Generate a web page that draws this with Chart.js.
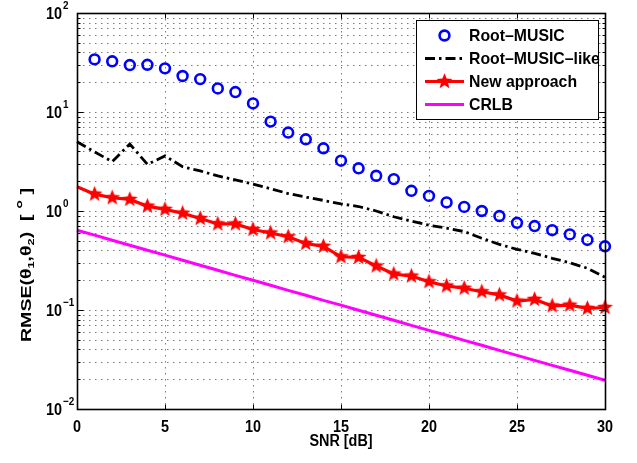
<!DOCTYPE html>
<html>
<head>
<meta charset="utf-8">
<script src="https://cdn.jsdelivr.net/npm/chart.js@4.4.1/dist/chart.umd.min.js"></script>
<style>
  html, body { margin: 0; padding: 0; background: #fff; }
  canvas { display: block; }
</style>
</head>
<body>
<canvas id="rmseChart" width="637" height="463"></canvas>
<script>
// ---- data ----
const snr = [0, 1, 2, 3, 4, 5, 6, 7, 8, 9, 10, 11, 12, 13, 14, 15, 16, 17, 18, 19, 20, 21, 22, 23, 24, 25, 26, 27, 28, 29, 30];
const rootMusic = [null, 34, 32.5, 29.8, 30, 27.6, 23.1, 21.5, 17.3, 15.9, 12.2, 8.0, 6.2, 5.3, 4.3, 3.22, 2.70, 2.27, 2.10, 1.60, 1.42, 1.22, 1.10, 1.0, 0.89, 0.76, 0.705, 0.64, 0.58, 0.51, 0.44];
const rootMusicLike = [5.0, 3.95, 3.15, 4.75, 2.96, 3.6, 2.8, 2.54, 2.26, 2.06, 1.87, 1.68, 1.5, 1.38, 1.28, 1.18, 1.11, 1.0, 0.875, 0.79, 0.72, 0.67, 0.62, 0.53, 0.46, 0.41, 0.374, 0.333, 0.30, 0.264, 0.214];
const newApproach = [1.76, 1.48, 1.36, 1.31, 1.12, 1.04, 0.95, 0.84, 0.74, 0.74, 0.65, 0.60, 0.55, 0.47, 0.44, 0.345, 0.34, 0.278, 0.231, 0.22, 0.193, 0.175, 0.166, 0.153, 0.142, 0.123, 0.128, 0.11, 0.112, 0.104, 0.106];
const crlb = [0.64, 0.57, 0.507, 0.451, 0.402, 0.358, 0.318, 0.283, 0.252, 0.224, 0.2, 0.178, 0.158, 0.141, 0.125, 0.112, 0.0993, 0.0884, 0.0787, 0.070, 0.0623, 0.0555, 0.0494, 0.044, 0.0391, 0.0348, 0.031, 0.0276, 0.0246, 0.0219, 0.0195];
const xTicks = [0, 5, 10, 15, 20, 25, 30];
const yDecades = [-2, -1, 0, 1, 2];
const seriesNames = ['Root\u2013MUSIC', 'Root\u2013MUSIC\u2013like', 'New approach', 'CRLB'];

const FONT = '"Liberation Sans", Arial, Helvetica, sans-serif';

function pts(vals) {
    return snr.map((x, i) => ({ x: x, y: vals[i] }));
}

// text squeezed sideways a bit, like the exported figure
function txt(ctx, s, x, y, size, sx, align) {
    ctx.save();
    ctx.font = 'bold ' + size + 'px ' + FONT;
    ctx.textAlign = align || 'left';
    ctx.textBaseline = 'middle';
    ctx.translate(x, y);
    ctx.scale(sx, 1);
    ctx.fillText(s, 0, 0);
    ctx.restore();
}

// filled pentagram marker (Chart.js 'star' is only an asterisk)
function makeStar(rOut, rIn, color) {
    const c = document.createElement('canvas');
    const s = Math.ceil(rOut * 2 + 2);
    c.width = s; c.height = s;
    const g = c.getContext('2d');
    g.translate(s / 2, s / 2);
    g.beginPath();
    for (let i = 0; i < 10; i++) {
        const r = i % 2 === 0 ? rOut : rIn;
        const a = -Math.PI / 2 + i * Math.PI / 5;
        if (i === 0) g.moveTo(r * Math.cos(a), r * Math.sin(a));
        else g.lineTo(r * Math.cos(a), r * Math.sin(a));
    }
    g.closePath();
    g.fillStyle = color;
    g.fill();
    return c;
}
const starImg = makeStar(8.3, 3.6, '#ff0000');

const DASHDOT = [10, 4, 2.5, 4];

// dotted grid, under the data
const gridPlugin = {
    id: 'matlabGrid',
    beforeDatasetsDraw(chart) {
        const ctx = chart.ctx, a = chart.chartArea;
        const xs = chart.scales.x, ys = chart.scales.y;
        ctx.save();
        ctx.strokeStyle = '#7a7a7a';
        ctx.lineWidth = 1;
        ctx.setLineDash([1.5, 4.5]);
        xTicks.forEach(v => {
            if (v === 0 || v === 30) return;
            const px = Math.round(xs.getPixelForValue(v)) + 0.5;
            ctx.beginPath(); ctx.moveTo(px, a.top); ctx.lineTo(px, a.bottom); ctx.stroke();
        });
        for (let d = -2; d < 2; d++) {
            for (let m = 1; m <= 9; m++) {
                if (d === -2 && m === 1) continue;
                const py = Math.round(ys.getPixelForValue(m * Math.pow(10, d))) + 0.5;
                ctx.beginPath(); ctx.moveTo(a.left, py); ctx.lineTo(a.right, py); ctx.stroke();
            }
        }
        ctx.restore();
    }
};

// box, ticks, labels and legend on top
const frameyPlugin = {
    id: 'matlabFrame',
    afterDraw(chart) {
        const ctx = chart.ctx, a = chart.chartArea;
        const xs = chart.scales.x, ys = chart.scales.y;
        const L = Math.round(a.left) + 0.5, R = Math.round(a.right) + 0.5;
        const T = Math.round(a.top) + 0.5, B = Math.round(a.bottom) + 0.5;
        ctx.save();
        ctx.strokeStyle = '#000';
        ctx.lineWidth = 1.6;
        ctx.setLineDash([]);
        ctx.strokeRect(L, T, R - L, B - T);

        ctx.lineWidth = 1;
        xTicks.forEach(v => {
            const px = Math.round(xs.getPixelForValue(v)) + 0.5;
            ctx.beginPath();
            ctx.moveTo(px, B); ctx.lineTo(px, B - 5);
            ctx.moveTo(px, T); ctx.lineTo(px, T + 5);
            ctx.stroke();
        });
        for (let d = -2; d <= 2; d++) {
            for (let m = 1; m <= 9; m++) {
                if (d === 2 && m > 1) break;
                const py = Math.round(ys.getPixelForValue(m * Math.pow(10, d))) + 0.5;
                const len = m === 1 ? 6 : 3;
                ctx.beginPath();
                ctx.moveTo(L, py); ctx.lineTo(L + len, py);
                ctx.moveTo(R, py); ctx.lineTo(R - len, py);
                ctx.stroke();
            }
        }

        ctx.fillStyle = '#000';
        xTicks.forEach(v => {
            txt(ctx, String(v), xs.getPixelForValue(v), 428, 16, 0.9, 'center');
        });
        yDecades.forEach(k => {
            const py = ys.getPixelForValue(Math.pow(10, k));
            txt(ctx, '10', 62, py + 2, 16, 0.9, 'right');
            txt(ctx, k < 0 ? '\u2212' + (-k) : String(k), 63, py - 7, 11, 0.9, 'left');
        });
        txt(ctx, 'SNR [dB]', (a.left + a.right) / 2, 442, 16, 0.9, 'center');

        // y title with subscripts, rotated
        ctx.save();
        ctx.translate(27, 342);
        ctx.rotate(-Math.PI / 2);
        ctx.scale(1.15, 0.86);
        ctx.textAlign = 'left';
        ctx.textBaseline = 'middle';
        const parts = [
            ['RMSE(\u03b8', 17, 0], ['1', 11, 5], [',\u03b8', 17, 0], ['2', 11, 5],
            [')  [ ', 17, 0], ['\u00b0', 20, -3], [' ]', 17, 0]
        ];
        let cx = 0;
        parts.forEach(p => {
            ctx.font = 'bold ' + p[1] + 'px ' + FONT;
            ctx.fillText(p[0], cx, p[2]);
            cx += ctx.measureText(p[0]).width;
        });
        ctx.restore();

        // legend
        const lx = 416.5, ly = 20.5, lw = 182, lh = 99;
        ctx.fillStyle = '#fff';
        ctx.fillRect(lx, ly, lw, lh);
        ctx.strokeStyle = '#000';
        ctx.lineWidth = 1;
        ctx.strokeRect(lx, ly, lw, lh);
        const sx0 = 425, sx1 = 464, mx = 444.5;
        seriesNames.forEach((name, i) => {
            const y = 35.5 + i * 23;
            const ds = chart.data.datasets[i];
            ctx.save();
            if (i === 0) {
                ctx.strokeStyle = ds.borderColor;
                ctx.lineWidth = ds.pointBorderWidth;
                ctx.beginPath(); ctx.arc(mx, y, ds.pointRadius, 0, Math.PI * 2); ctx.stroke();
            } else {
                ctx.strokeStyle = ds.borderColor;
                ctx.lineWidth = ds.borderWidth;
                ctx.setLineDash(ds.borderDash || []);
                ctx.beginPath(); ctx.moveTo(sx0, y); ctx.lineTo(sx1, y); ctx.stroke();
                if (i === 2) ctx.drawImage(starImg, mx - starImg.width / 2, y - starImg.height / 2);
            }
            ctx.restore();
            ctx.fillStyle = '#000';
            txt(ctx, name, 469, y + 1, 17, 0.93, 'left');
        });
        ctx.restore();
    }
};

const ctx = document.getElementById('rmseChart').getContext('2d');
new Chart(ctx, {
    type: 'line',
    data: {
        datasets: [
            {
                label: seriesNames[0],
                data: pts(rootMusic),
                showLine: false,
                borderColor: '#0000ff',
                backgroundColor: 'rgba(0,0,0,0)',
                pointStyle: 'circle',
                pointRadius: 4.9,
                pointBorderWidth: 2.6,
                pointBackgroundColor: 'rgba(0,0,0,0)',
                clip: false
            },
            {
                label: seriesNames[1],
                data: pts(rootMusicLike),
                borderColor: '#000000',
                borderWidth: 2.8,
                borderDash: DASHDOT,
                pointRadius: 0,
                tension: 0,
                clip: false
            },
            {
                label: seriesNames[2],
                data: pts(newApproach),
                borderColor: '#ff0000',
                borderWidth: 3.2,
                pointStyle: starImg,
                pointRadius: snr.map(x => x === 0 ? 0 : 7),
                tension: 0,
                clip: false
            },
            {
                label: seriesNames[3],
                data: pts(crlb),
                borderColor: '#ff00ff',
                borderWidth: 3,
                pointRadius: 0,
                tension: 0,
                clip: false
            }
        ]
    },
    options: {
        responsive: false,
        devicePixelRatio: 1,
        animation: false,
        layout: { padding: { top: 13, right: 32, left: 0, bottom: 0 } },
        scales: {
            x: {
                type: 'linear', min: 0, max: 30,
                grid: { display: false },
                border: { display: false },
                ticks: { display: false },
                afterFit: s => { s.height = 54; }
            },
            y: {
                type: 'logarithmic', min: 0.01, max: 100,
                grid: { display: false },
                border: { display: false },
                ticks: { display: false },
                afterFit: s => { s.width = 77; }
            }
        },
        plugins: {
            legend: { display: false },
            tooltip: { enabled: false }
        }
    },
    plugins: [gridPlugin, frameyPlugin]
});
</script>
</body>
</html>
